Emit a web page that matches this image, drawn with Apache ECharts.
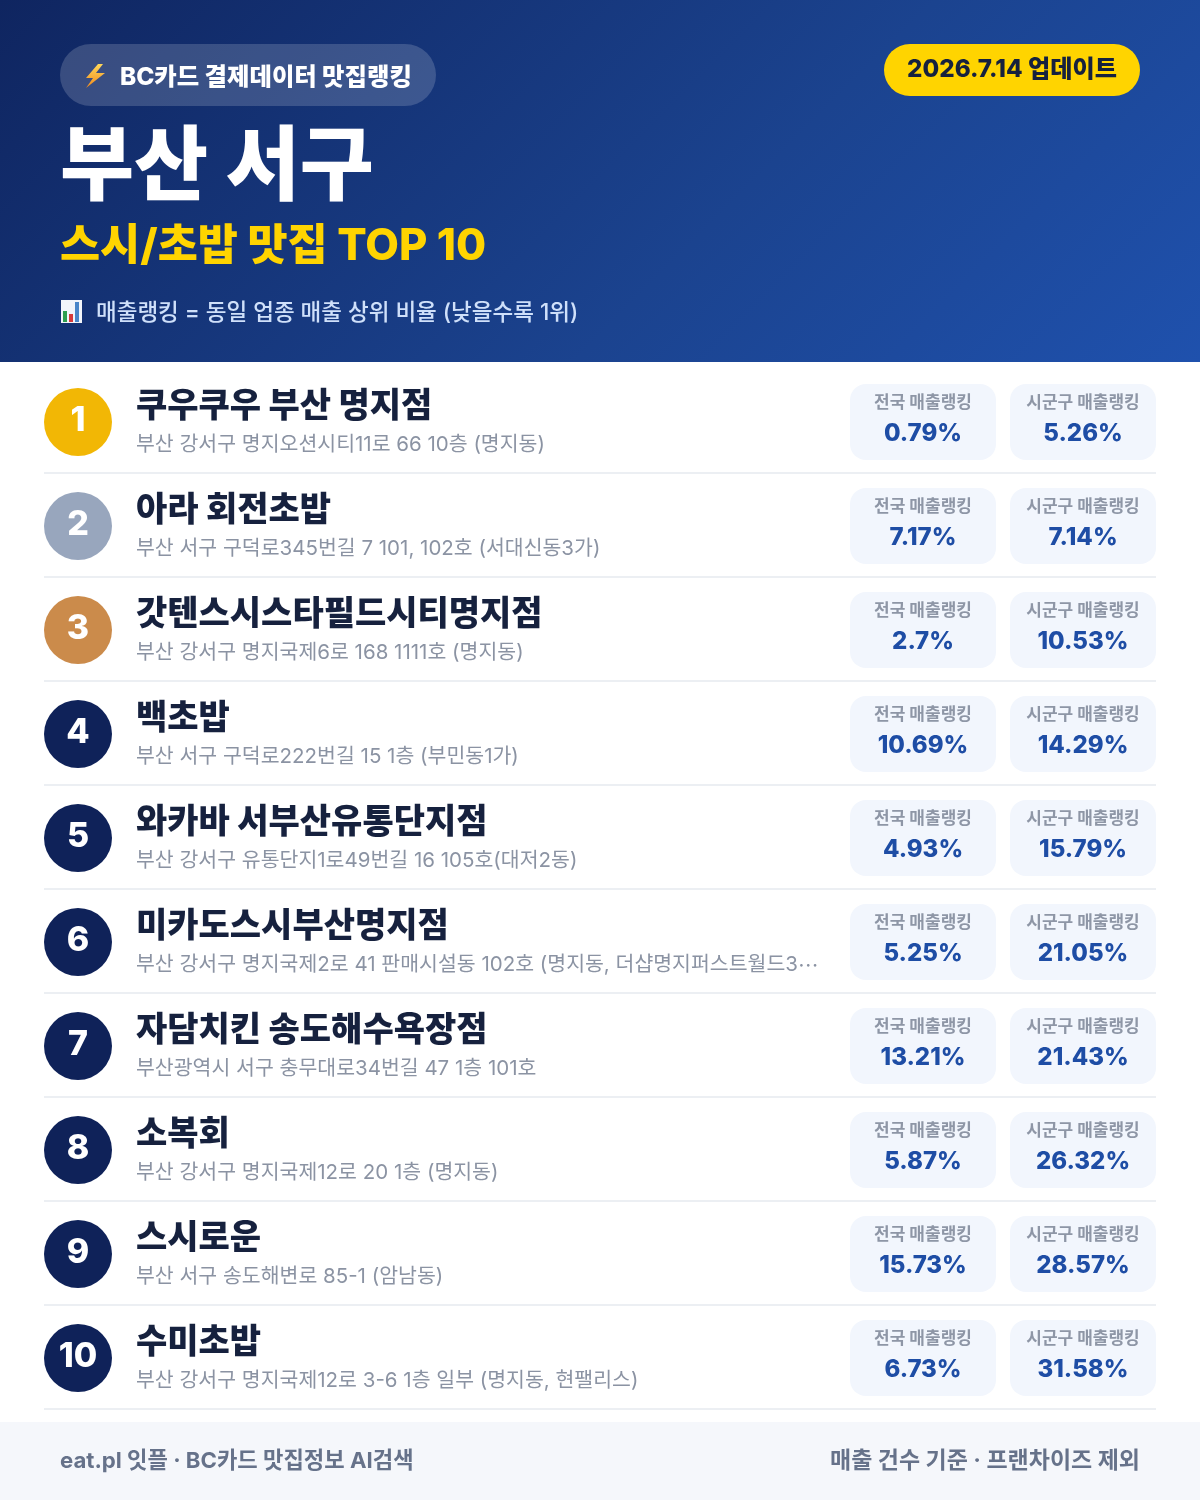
<!DOCTYPE html>
<html><head><meta charset="utf-8">
<style>html,body{margin:0;padding:0;background:#fff}#c{width:1200px;height:1500px}</style>
<script src="https://cdn.jsdelivr.net/npm/echarts@6/dist/echarts.min.js"></script>
</head><body><div id="c"></div>
<script>
const ranks=[1,2,3,4,5,6,7,8,9,10];
const names=["쿠우쿠우 부산 명지점","아라 회전초밥","갓텐스시스타필드시티명지점","백초밥","와카바 서부산유통단지점","미카도스시부산명지점","자담치킨 송도해수욕장점","소복회","스시로운","수미초밥"];
const addresses=["부산 강서구 명지오션시티11로 66 10층 (명지동)","부산 서구 구덕로345번길 7 101, 102호 (서대신동3가)","부산 강서구 명지국제6로 168 1111호 (명지동)","부산 서구 구덕로222번길 15 1층 (부민동1가)","부산 강서구 유통단지1로49번길 16 105호(대저2동)","부산 강서구 명지국제2로 41 판매시설동 102호 (명지동, 더샵명지퍼스트월드3…","부산광역시 서구 충무대로34번길 47 1층 101호","부산 강서구 명지국제12로 20 1층 (명지동)","부산 서구 송도해변로 85-1 (암남동)","부산 강서구 명지국제12로 3-6 1층 일부 (명지동, 현팰리스)"];
const nationalRank=[0.79,7.17,2.7,10.69,4.93,5.25,13.21,5.87,15.73,6.73];
const districtRank=[5.26,7.14,10.53,14.29,15.79,21.05,21.43,26.32,28.57,31.58];
const nationalLabel="전국 매출랭킹";
const districtLabel="시군구 매출랭킹";
const badgeColors=["#F2B705","#98A6BD","#CB8B4B"];
const badgeDefault="#0F2259";
const FONT='Inter,"Noto Sans CJK KR","Noto Sans",sans-serif';
const CJK='"Noto Sans CJK KR",sans-serif';

function txt(x,y,text,size,weight,fill,align){
  return {type:'text',x:x,y:y,silent:true,style:{text:text,fontFamily:FONT,fontSize:size,fontWeight:weight,fill:fill,align:align||'left',verticalAlign:'middle'}};
}
function addressText(x,y,text){
  const node=txt(x,y,text,20.5,400,'#8B93A3');
  if(text.endsWith('…')){
    node.style.text='{a|'+text.slice(0,-1)+'}{b|…}';
    node.style.rich={
      a:{fontFamily:FONT,fontSize:20.5,fill:'#8B93A3'},
      b:{fontFamily:CJK,fontSize:20.5,fill:'#8B93A3'}
    };
  }
  return node;
}
function pill(cx,y,label,value){
  return [
    {type:'rect',shape:{x:cx-73,y:y-38,width:146,height:76,r:16},style:{fill:'#F2F6FD'}},
    txt(cx,y-19,label,17,700,'#8E96A6','center'),
    txt(cx,y+12,value+'%',24,800,'#1E4DA5','center')
  ];
}
function renderRow(params,api){
  const i=api.value(0);
  const p=api.coord([0,i]);
  const y=p[1];
  const X=v=>api.coord([v,i])[0];
  const children=[
    {type:'circle',shape:{cx:X(78),cy:y,r:34},style:{fill:badgeColors[i]||badgeDefault}},
    txt(X(78),y-1,String(ranks[i]),34,800,'#FFFFFF','center'),
    txt(X(136),y-15,names[i],34,800,'#16213E'),
    addressText(X(136),y+23,addresses[i]),
    {type:'rect',shape:{x:X(44),y:y+50,width:1112,height:2},style:{fill:'#ECEFF3'}}
  ].concat(pill(X(923),y,nationalLabel,nationalRank[i]),pill(X(1083),y,districtLabel,districtRank[i]));
  return {type:'group',children:children};
}

const chart=echarts.init(document.getElementById('c'),null,{renderer:'canvas',width:1200,height:1500});
chart.setOption({
  animation:false,
  backgroundColor:'#FFFFFF',
  grid:{left:0,right:0,top:370,height:1040},
  xAxis:{type:'value',min:0,max:1200,show:false},
  yAxis:{type:'category',inverse:true,data:ranks.map(String),show:false},
  graphic:[
    {type:'rect',z:-1,shape:{x:0,y:0,width:1200,height:362},style:{fill:new echarts.graphic.LinearGradient(209.5,-209.5,990.5,571.5,[{offset:0,color:'#0F2560'},{offset:0.6,color:'#1B438F'},{offset:1,color:'#1F51AD'}],true)}},
    {type:'rect',shape:{x:60,y:44,width:376,height:62,r:31},style:{fill:'rgba(255,255,255,0.17)'}},
    {type:'polygon',shape:{points:[[98,64],[86,78],[93,78],[86,88],[105,73],[96,73],[103,64]]},style:{fill:new echarts.graphic.LinearGradient(0,0,0,1,[{offset:0,color:'#FFD75A'},{offset:1,color:'#F08A1D'}])}},
    txt(120,78,'BC카드 결제데이터 맛집랭킹',24.4,800,'#FFFFFF'),
    {type:'rect',shape:{x:884,y:44,width:256,height:52,r:26},style:{fill:'#FFD400'}},
    txt(1012,70,'2026.7.14 업데이트',24.2,800,'#16213E','center'),
    txt(60,169,'부산 서구',80.5,800,'#FFFFFF'),
    txt(60,247,'스시/초밥 맛집 TOP 10',43.6,800,'#FFD400'),
    {type:'rect',shape:{x:61,y:300,width:21,height:23},style:{fill:'#F2F5FA'}},
    {type:'rect',shape:{x:63,y:311,width:4,height:11},style:{fill:'#2E9E4F'}},
    {type:'rect',shape:{x:69,y:314,width:4,height:8},style:{fill:'#D83A3A'}},
    {type:'rect',shape:{x:75,y:302,width:4,height:20},style:{fill:'#4A86C8'}},
    txt(96,313,'매출랭킹 = 동일 업종 매출 상위 비율 (낮을수록 1위)',22.5,500,'#CFE0FA'),
    {type:'rect',shape:{x:0,y:1422,width:1200,height:78},style:{fill:'#F5F7FB'}},
    txt(60,1461,'eat.pl 잇플 · BC카드 맛집정보 AI검색',22.2,700,'#66728A'),
    txt(1140,1461,'매출 건수 기준 · 프랜차이즈 제외',23,700,'#66728A','right')
  ],
  series:[{type:'custom',coordinateSystem:'cartesian2d',silent:true,
    encode:{x:1,y:0},
    data:ranks.map((r,i)=>[i,nationalRank[i]]),
    renderItem:renderRow,clip:false}]
});
</script></body></html>
